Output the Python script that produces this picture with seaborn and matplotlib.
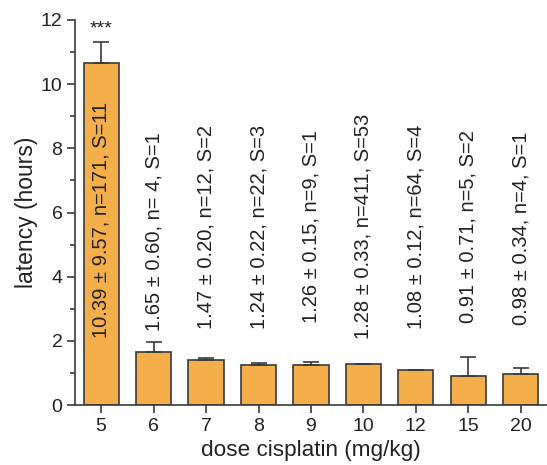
import matplotlib
matplotlib.use("Agg")
import matplotlib.pyplot as plt
import seaborn as sns
import pandas as pd
import numpy as np
from matplotlib.ticker import MultipleLocator

doses = ["5", "6", "7", "8", "9", "10", "12", "15", "20"]
latency = [10.67, 1.65, 1.40, 1.25, 1.26, 1.28, 1.08, 0.89, 0.98]
err_up = [0.63, 0.30, 0.07, 0.05, 0.07, 0.01, 0.01, 0.60, 0.17]
labels = ["10.39 \u00b1 9.57, n=171, S=11", "1.65 \u00b1 0.60, n= 4, S=1",
          "1.47 \u00b1 0.20, n=12, S=2", "1.24 \u00b1 0.22, n=22, S=3",
          "1.26 \u00b1 0.15, n=9, S=1", "1.28 \u00b1 0.33, n=411, S=53",
          "1.08 \u00b1 0.12, n=64, S=4", "0.91 \u00b1 0.71, n=5, S=2",
          "0.98 \u00b1 0.34, n=4, S=1"]
label_y = [5.77, 5.40, 5.55, 5.55, 5.55, 5.58, 5.55, 5.55, 5.50]

sns.set_style("ticks")
plt.rcParams['font.family'] = ['Liberation Sans', 'DejaVu Sans']

df = pd.DataFrame({"dose": doses, "latency": latency})
fig = plt.figure(figsize=(5.47, 4.65), dpi=100)
ax = fig.add_axes([0.137, 0.129, 0.863, 0.828])
sns.barplot(data=df, x="dose", y="latency", order=doses, color="#F4AF4B",
            saturation=1, edgecolor="#3a3a3a", linewidth=1.2, width=0.67,
            errorbar=None, ax=ax)
xs = np.arange(len(doses))
ax.errorbar(xs, latency, yerr=[np.zeros(len(doses)), err_up], fmt="none",
            ecolor="#3a3a3a", elinewidth=1.2, capsize=6, capthick=1.2, zorder=3)
for x, t, y in zip(xs, labels, label_y):
    ax.text(x, y, t, rotation=90, ha="center", va="center", fontsize=14.5, color="#222222")
ax.text(0, 11.72, "***", ha="center", va="center", fontsize=14, color="#222222")

ax.set_ylim(0, 12)
ax.set_xlim(-0.5, 8.5)
ax.yaxis.set_major_locator(MultipleLocator(2))
ax.yaxis.set_minor_locator(MultipleLocator(1))
ax.tick_params(axis="both", which="major", direction="out", length=6, width=1.2,
               labelsize=14, color="#3a3a3a", labelcolor="#222222", pad=3)
ax.tick_params(axis="y", which="minor", direction="out", length=3.5, width=1.2, color="#3a3a3a")
for s in ["left", "bottom"]:
    ax.spines[s].set_linewidth(1.2)
    ax.spines[s].set_color("#3a3a3a")
sns.despine(ax=ax)
ax.set_xlabel("dose cisplatin (mg/kg)", fontsize=16.2, color="#222222", labelpad=4)
ax.set_ylabel("latency (hours)", fontsize=16.5, color="#222222", labelpad=2)
fig.savefig("out.png", dpi=100)
